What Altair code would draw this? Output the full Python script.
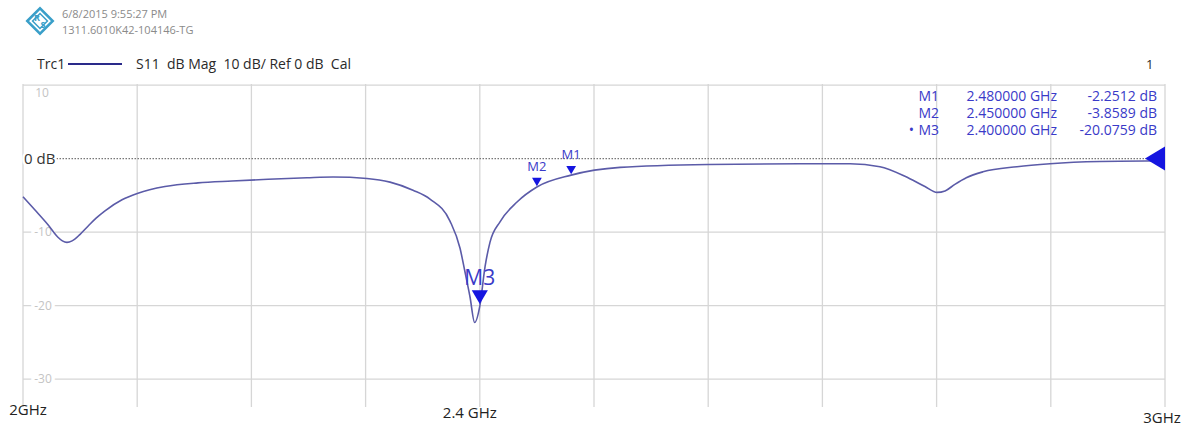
import altair as alt
import pandas as pd

# ---------------- data ----------------
freq_ghz = [2.000, 2.0105, 2.0219, 2.0306, 2.0345, 2.0385, 2.0430, 2.0500, 2.0569, 2.0640,
            2.0718, 2.0867, 2.1007, 2.1243, 2.1532, 2.1830, 2.2102, 2.2487, 2.2715, 2.3012,
            2.3214, 2.3415, 2.3564, 2.3739, 2.3827, 2.3870, 2.3914, 2.3955, 2.4000, 2.4046,
            2.4089, 2.4177, 2.4326, 2.4500, 2.4800, 2.5228, 2.6000, 2.6800, 2.7242, 2.7504,
            2.7723, 2.7898, 2.8004, 2.8074, 2.8160, 2.8260, 2.8406, 2.8704, 2.8993, 2.9430,
            3.0000]
s11_db = [-5.2, -7.0, -9.0, -10.7, -11.2, -11.4, -11.2, -10.3, -9.2, -8.1,
          -7.1, -5.6, -4.7, -3.8, -3.3, -3.05, -2.85, -2.6, -2.5, -2.7,
          -3.2, -4.3, -5.5, -8.5, -12.2, -15.4, -18.8, -22.3, -20.08, -14.7,
          -11.4, -8.6, -5.9, -3.86, -2.25, -1.2, -0.8, -0.7, -0.7, -1.1,
          -2.4, -3.8, -4.6, -4.4, -3.5, -2.6, -1.8, -1.1, -0.7, -0.4,
          -0.3]

x_grid = [2.0, 2.1, 2.2, 2.3, 2.4, 2.5, 2.6, 2.7, 2.8, 2.9, 3.0]
y_grid = [10, -10, -20, -30]
y_grid_labels = ["10", "-10", "-20", "-30"]
ref_level = [0]

x_label_freq = [2.0, 2.4, 3.0]
x_label_text = ["2GHz", "2.4 GHz", "3GHz"]

marker_names = ["M1", "M2", "M3"]
marker_freq = [2.48, 2.45, 2.40]
marker_db = [-2.2512, -3.8589, -20.0759]
marker_freq_text = ["2.480000 GHz", "2.450000 GHz", "2.400000 GHz"]
marker_db_text = ["-2.2512 dB", "-3.8589 dB", "-20.0759 dB"]
marker_bullet = ["", "", "\u2022"]

# ---------------- setup ----------------
W, H = 1142, 323
FONT = "Open Sans"
NB = "\u00a0"
xs = alt.Scale(domain=[2.0, 3.0], nice=False, zero=False)
ys = alt.Scale(domain=[-33.8, 10.15], nice=False, zero=False)

trace = pd.DataFrame({"f": freq_ghz, "db": s11_db})
grid_x = pd.DataFrame({"f": x_grid})
grid_y = pd.DataFrame({"db": y_grid, "lab": y_grid_labels})
ref = pd.DataFrame({"db": ref_level})
xlab = pd.DataFrame({"f": x_label_freq, "t": x_label_text})
mk = pd.DataFrame({"name": marker_names, "f": marker_freq, "db": marker_db,
                   "ft": marker_freq_text, "dt": marker_db_text, "b": marker_bullet,
                   "row": list(range(len(marker_names)))})
one = pd.DataFrame({"k": [0]})

X = lambda: alt.X("f:Q", scale=xs, axis=None)
Y = lambda: alt.Y("db:Q", scale=ys, axis=None)
X0 = lambda: alt.X("x0:Q", scale=xs, axis=None)

GRID = "#d6d6d6"
TRACE = "#5b5ba8"
MBLUE = "#1515e0"
MTEXT = "#3a3ac8"

layers = []

# grid
layers.append(alt.Chart(grid_x).mark_rule(color=GRID, strokeWidth=1.3).encode(x=X()))
layers.append(alt.Chart(grid_y).mark_rule(color=GRID, strokeWidth=1.3).encode(y=Y()))
layers.append(alt.Chart(ref).mark_rule(color="#777777", strokeWidth=1.2, strokeDash=[1.5, 1.5]).encode(y=Y()))

# y labels with white halo
lab_df = grid_y[grid_y["lab"] != "10"]
layers.append(alt.Chart(lab_df).mark_text(font=FONT, fontSize=12, color="white", stroke="white",
                                          strokeWidth=7, dx=20).encode(
    x=X0(), y=Y(), text="lab:N").transform_calculate(x0="2.0"))
layers.append(alt.Chart(lab_df).mark_text(font=FONT, fontSize=12, color="#c4c4c4", dx=20).encode(
    x=X0(), y=Y(), text="lab:N").transform_calculate(x0="2.0"))
layers.append(alt.Chart(grid_y[grid_y["lab"] == "10"]).mark_text(
    font=FONT, fontSize=12, color="#c4c4c4", dx=19, dy=8).encode(
    x=X0(), y=Y(), text="lab:N").transform_calculate(x0="2.0"))

# 0 dB label with halo
layers.append(alt.Chart(ref).mark_text(font=FONT, fontSize=15, color="white", stroke="white",
                                       strokeWidth=5, align="left", dx=1).encode(
    x=X0(), y=Y(), text=alt.value("0 dB")).transform_calculate(x0="2.0"))
layers.append(alt.Chart(ref).mark_text(font=FONT, fontSize=15, color="#333333", align="left", dx=1).encode(
    x=X0(), y=Y(), text=alt.value("0 dB")).transform_calculate(x0="2.0"))

# trace
layers.append(alt.Chart(trace).mark_line(color=TRACE, strokeWidth=1.6, interpolate="monotone").encode(
    x=X(), y=Y()))

# reference-level arrow at right edge
layers.append(alt.Chart(ref).mark_point(shape="M 0 -1.2 L -2 0 L 0 1.2 Z", size=400, filled=True,
                                        color=MBLUE, opacity=1).encode(
    x=X0(), y=Y()).transform_calculate(x0="3.0"))

# markers
small = mk[mk["name"] != "M3"]
big = mk[mk["name"] == "M3"]
layers.append(alt.Chart(small).mark_point(shape="triangle-down", size=95, filled=True, color=MBLUE,
                                          opacity=1, yOffset=-5).encode(x=X(), y=Y()))
layers.append(alt.Chart(small).mark_text(font=FONT, fontSize=13, color=MTEXT, dy=-20).encode(
    x=X(), y=Y(), text="name:N"))
layers.append(alt.Chart(big).mark_point(shape="triangle-down", size=260, filled=True, color=MBLUE,
                                        opacity=1, yOffset=-9).encode(x=X(), y=Y()))
layers.append(alt.Chart(big).mark_text(font=FONT, fontSize=21, color=MTEXT, dy=-27).encode(
    x=X(), y=Y(), text="name:N"))

# marker table (top right)
def table_col(field, dx):
    return alt.Chart(mk).mark_text(font=FONT, fontSize=14, color=MTEXT, align="right", dx=dx).encode(
        x=alt.X("x1:Q", scale=xs, axis=None),
        y=alt.Y("ypx:Q", scale=None, axis=None),
        text=f"{field}:N").transform_calculate(x1="3.0", ypx="13 + 17*datum.row")

layers.append(table_col("dt", -8))
layers.append(table_col("ft", -108))
layers.append(table_col("name", -226))
layers.append(table_col("b", -251))

# x labels
layers.append(alt.Chart(xlab[xlab["t"] == "2GHz"]).mark_text(font=FONT, fontSize=15, color="#222222", dx=5, dy=3).encode(
    x=X(), y=alt.value(H), text="t:N"))
layers.append(alt.Chart(xlab[xlab["t"] == "2.4 GHz"]).mark_text(font=FONT, fontSize=15, color="#222222", dx=-10, dy=6).encode(
    x=X(), y=alt.value(H), text="t:N"))
layers.append(alt.Chart(xlab[xlab["t"] == "3GHz"]).mark_text(font=FONT, fontSize=15, color="#222222", dx=-3, dy=11).encode(
    x=X(), y=alt.value(H), text="t:N"))

# header
def htext(txt, x, y, size=13, color="#2a2a2a", align="left"):
    return alt.Chart(one).mark_text(font=FONT, fontSize=size, color=color, align=align,
                                    baseline="middle", text=txt).encode(x=alt.value(x), y=alt.value(y))

layers.append(htext("6/8/2015 9:55:27 PM", 39, -69, size=11, color="#8a8a8a"))
layers.append(htext("1311.6010K42-104146-TG", 39, -53, size=11, color="#8a8a8a"))
layers.append(htext("Trc1", 14, -19, size=14))
layers.append(alt.Chart(one).mark_rule(color="#2a2a8a", strokeWidth=2).encode(
    x=alt.value(45), x2=alt.value(99), y=alt.value(-20)))
layers.append(htext(f"S11{NB}{NB}dB Mag{NB}{NB}10 dB/ Ref 0 dB{NB}{NB}Cal", 113, -19, size=14))
layers.append(htext("1", 1123, -19, size=13))

# logo
LOGO = "#3a9fc9"
layers.append(alt.Chart(one).mark_point(shape="diamond", size=650, filled=False, color=LOGO,
                                        strokeWidth=2.5, opacity=1).encode(x=alt.value(17), y=alt.value(-63)))
layers.append(alt.Chart(one).mark_point(shape="diamond", size=220, filled=False, color=LOGO,
                                        strokeWidth=1.5, opacity=1).encode(x=alt.value(17), y=alt.value(-63)))
layers.append(alt.Chart(one).mark_text(font=FONT, fontSize=9, fontWeight="bold", color=LOGO, text="R").encode(
    x=alt.value(14), y=alt.value(-66)))
layers.append(alt.Chart(one).mark_text(font=FONT, fontSize=9, fontWeight="bold", color=LOGO, text="S").encode(
    x=alt.value(20), y=alt.value(-59)))

chart = alt.layer(*layers).properties(
    width=W, height=H,
    autosize=alt.AutoSizeParams(type="none"),
    padding={"left": 23, "top": 84, "right": 24, "bottom": 23},
    background="white",
).configure_view(stroke=None)

chart.save("out.html", embed_options={"renderer": "svg", "actions": False})
